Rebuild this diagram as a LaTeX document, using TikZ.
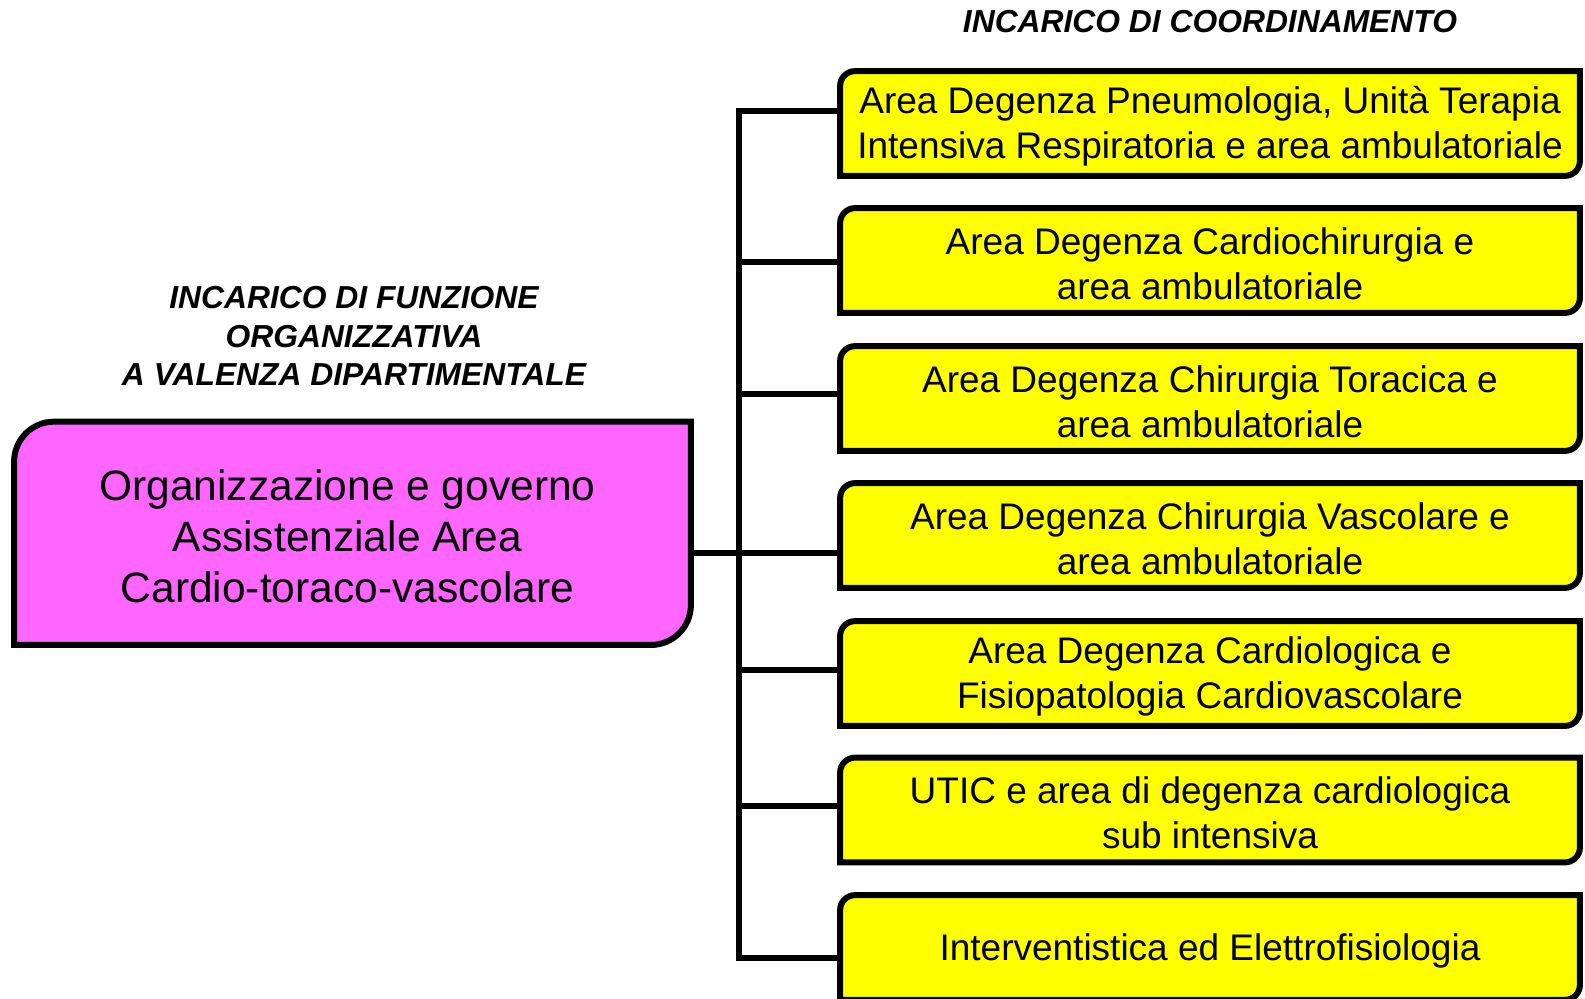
\documentclass[tikz,border=0pt]{standalone}
\usepackage{fontspec}
\setmainfont{Liberation Sans}
\usetikzlibrary{backgrounds}
\definecolor{orgpink}{RGB}{255,102,255}
\definecolor{coordyellow}{RGB}{255,255,0}
\newcommand{\twocorners}[3]{\draw[link,fill=#3] (#1.west) [rounded corners=#2] -- (#1.north west) [sharp corners] -- (#1.north east) [rounded corners=#2] -- (#1.south east) [sharp corners] -- (#1.south west) -- cycle;}
\tikzset{
  ybox/.style={minimum width=369.5pt,minimum height=52pt,inner sep=0pt},
  ytext/.style={align=center,inner sep=0pt,font=\fontsize{18.5}{22.5}\selectfont},
  orgbox/.style={minimum width=338pt,minimum height=111.25pt,inner sep=0pt},
  orgtext/.style={align=center,inner sep=0pt,font=\fontsize{21.25}{25.5}\selectfont},
  hdr/.style={align=center,font=\fontsize{15.9}{19.2}\selectfont\bfseries\itshape},
  link/.style={line width=3pt}
}
\begin{document}
\begin{tikzpicture}[x=0.5pt,y=-0.5pt]
\useasboundingbox (0,0) rectangle (1585,998);
% titles
\node[hdr] (tcoord) at (1210,22) {INCARICO DI COORDINAMENTO};
\node[hdr] (tfunz) at (354,336) {INCARICO DI FUNZIONE\\ORGANIZZATIVA\\A VALENZA DIPARTIMENTALE};
% boxes
\node[orgbox] (org) at (352.5,533.3) {};
\node[ybox] (y1) at (1210,123.5) {};
\node[ybox] (y2) at (1210,260.5) {};
\node[ybox] (y3) at (1210,398.5) {};
\node[ybox] (y4) at (1210,535.5) {};
\node[ybox] (y5) at (1210,673.5) {};
\node[ybox] (y6) at (1210,810) {};
\node[ybox] (y7) at (1210,947.5) {};
\begin{scope}[on background layer]
\twocorners{org}{20pt}{orgpink}
\foreach \i in {1,...,7} {\twocorners{y\i}{7.5pt}{coordyellow}}
\end{scope}
% texts
\node[orgtext] (torg) at ([xshift=-2.5pt,yshift=-1.5pt]org.center) {Organizzazione e governo\\Assistenziale Area\\Cardio-toraco-vascolare};
\node[ytext] (t1) at ([yshift=-1.5pt]y1.center) {Area Degenza Pneumologia, Unità Terapia\\Intensiva Respiratoria e area ambulatoriale};
\node[ytext] (t2) at ([yshift=-1.5pt]y2.center) {Area Degenza Cardiochirurgia e\\area ambulatoriale};
\node[ytext] (t3) at ([yshift=-1.5pt]y3.center) {Area Degenza Chirurgia Toracica e\\area ambulatoriale};
\node[ytext] (t4) at ([yshift=-1.5pt]y4.center) {Area Degenza Chirurgia Vascolare e\\area ambulatoriale};
\node[ytext] (t5) at ([yshift=-1.5pt]y5.center) {Area Degenza Cardiologica e\\Fisiopatologia Cardiovascolare};
\node[ytext] (t6) at ([yshift=-1.5pt]y6.center) {UTIC e area di degenza cardiologica\\sub intensiva};
\node[ytext] (t7) at ([yshift=-1.5pt]y7.center) {Interventistica ed Elettrofisiologia};
% connectors
\coordinate (spine) at (739,0);
\coordinate (b1) at ([yshift=6.25pt]y1.west);
\coordinate (b2) at ([yshift=-0.75pt]y2.west);
\coordinate (b3) at ([yshift=2.25pt]y3.west);
\coordinate (b4) at ([yshift=-8.75pt]y4.west);
\coordinate (b5) at ([yshift=1.75pt]y5.west);
\coordinate (b6) at ([yshift=2pt]y6.west);
\coordinate (b7) at ([yshift=-5.25pt]y7.west);
\draw[link] (b1) -- (spine |- b1) -- (spine |- b7) -- (b7);
\foreach \i in {2,3,5,6} \draw[link] (spine |- b\i) -- (b\i);
\draw[link] (org.east |- b4) -- (b4);
\end{tikzpicture}
\end{document}
